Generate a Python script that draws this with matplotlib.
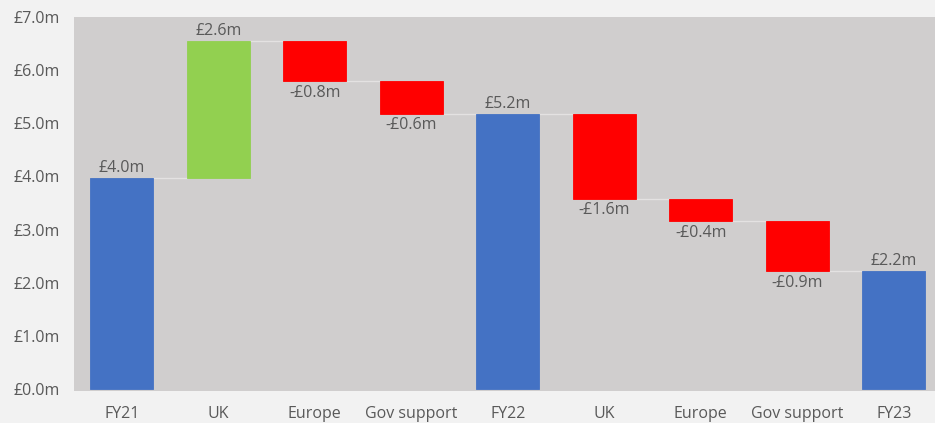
import matplotlib.pyplot as plt
from matplotlib.ticker import FuncFormatter

# waterfall steps, £m
categories = ["FY21", "UK", "Europe", "Gov support", "FY22", "UK", "Europe", "Gov support", "FY23"]
changes = [3.97, 2.58, -0.76, -0.61, None, -1.60, -0.42, -0.94, None]
is_total = [True, False, False, False, True, False, False, False, True]

BLUE = "#4472c4"
GREEN = "#92d050"
RED = "#ff0000"
TEXT = "#595959"

plt.rcParams['font.family'] = ['Open Sans', 'DejaVu Sans']

fig = plt.figure(figsize=(9.35, 4.23), dpi=100, facecolor="#f2f2f2")
ax = fig.add_axes([73.5 / 935, 32 / 423, 868.5 / 935, 374 / 423])
ax.set_facecolor("#d0cece")

running = 0.0
bottoms, heights, colors, labels, tops = [], [], [], [], []
for i, (cat, ch, tot) in enumerate(zip(categories, changes, is_total)):
    if tot:
        if ch is not None:
            running = ch
        bottoms.append(0)
        heights.append(running)
        colors.append(BLUE)
        labels.append(running)
    else:
        start = running
        running = running + ch
        bottoms.append(min(start, running))
        heights.append(abs(ch))
        colors.append(GREEN if ch > 0 else RED)
        labels.append(ch)
    tops.append(running)

x = list(range(len(categories)))
width = 0.65
ax.bar(x, heights, bottom=bottoms, width=width, color=colors,
       edgecolor=colors, linewidth=0.6, zorder=3)

# connector lines between consecutive bars
for i in range(len(x) - 1):
    ax.plot([x[i] + width / 2, x[i + 1] - width / 2], [tops[i], tops[i]],
            color="#e4e2e2", lw=1.0, zorder=2)

# value labels
for i, v in enumerate(labels):
    if v >= 0:
        ypos = bottoms[i] + heights[i] + 0.03
        va = "bottom"
        txt = f"£{v:.1f}m"
    else:
        ypos = bottoms[i] - 0.07
        va = "top"
        txt = f"-£{abs(v):.1f}m"
    ax.text(x[i], ypos, txt, ha="center", va=va, fontsize=11.5, color=TEXT)

ax.set_xlim(-0.5, len(x) - 0.5)
ax.set_ylim(-0.04, 7.0)
ax.set_yticks(range(0, 8))
ax.yaxis.set_major_formatter(FuncFormatter(lambda v, p: f"£{v:.1f}m"))
ax.set_xticks(x)
ax.set_xticklabels(categories)
ax.tick_params(axis="both", length=0, labelsize=11.5, colors=TEXT)
ax.tick_params(axis="x", pad=11)
ax.tick_params(axis="y", pad=10)
for s in ax.spines.values():
    s.set_visible(False)

fig.savefig("out.png", dpi=100, facecolor=fig.get_facecolor())
